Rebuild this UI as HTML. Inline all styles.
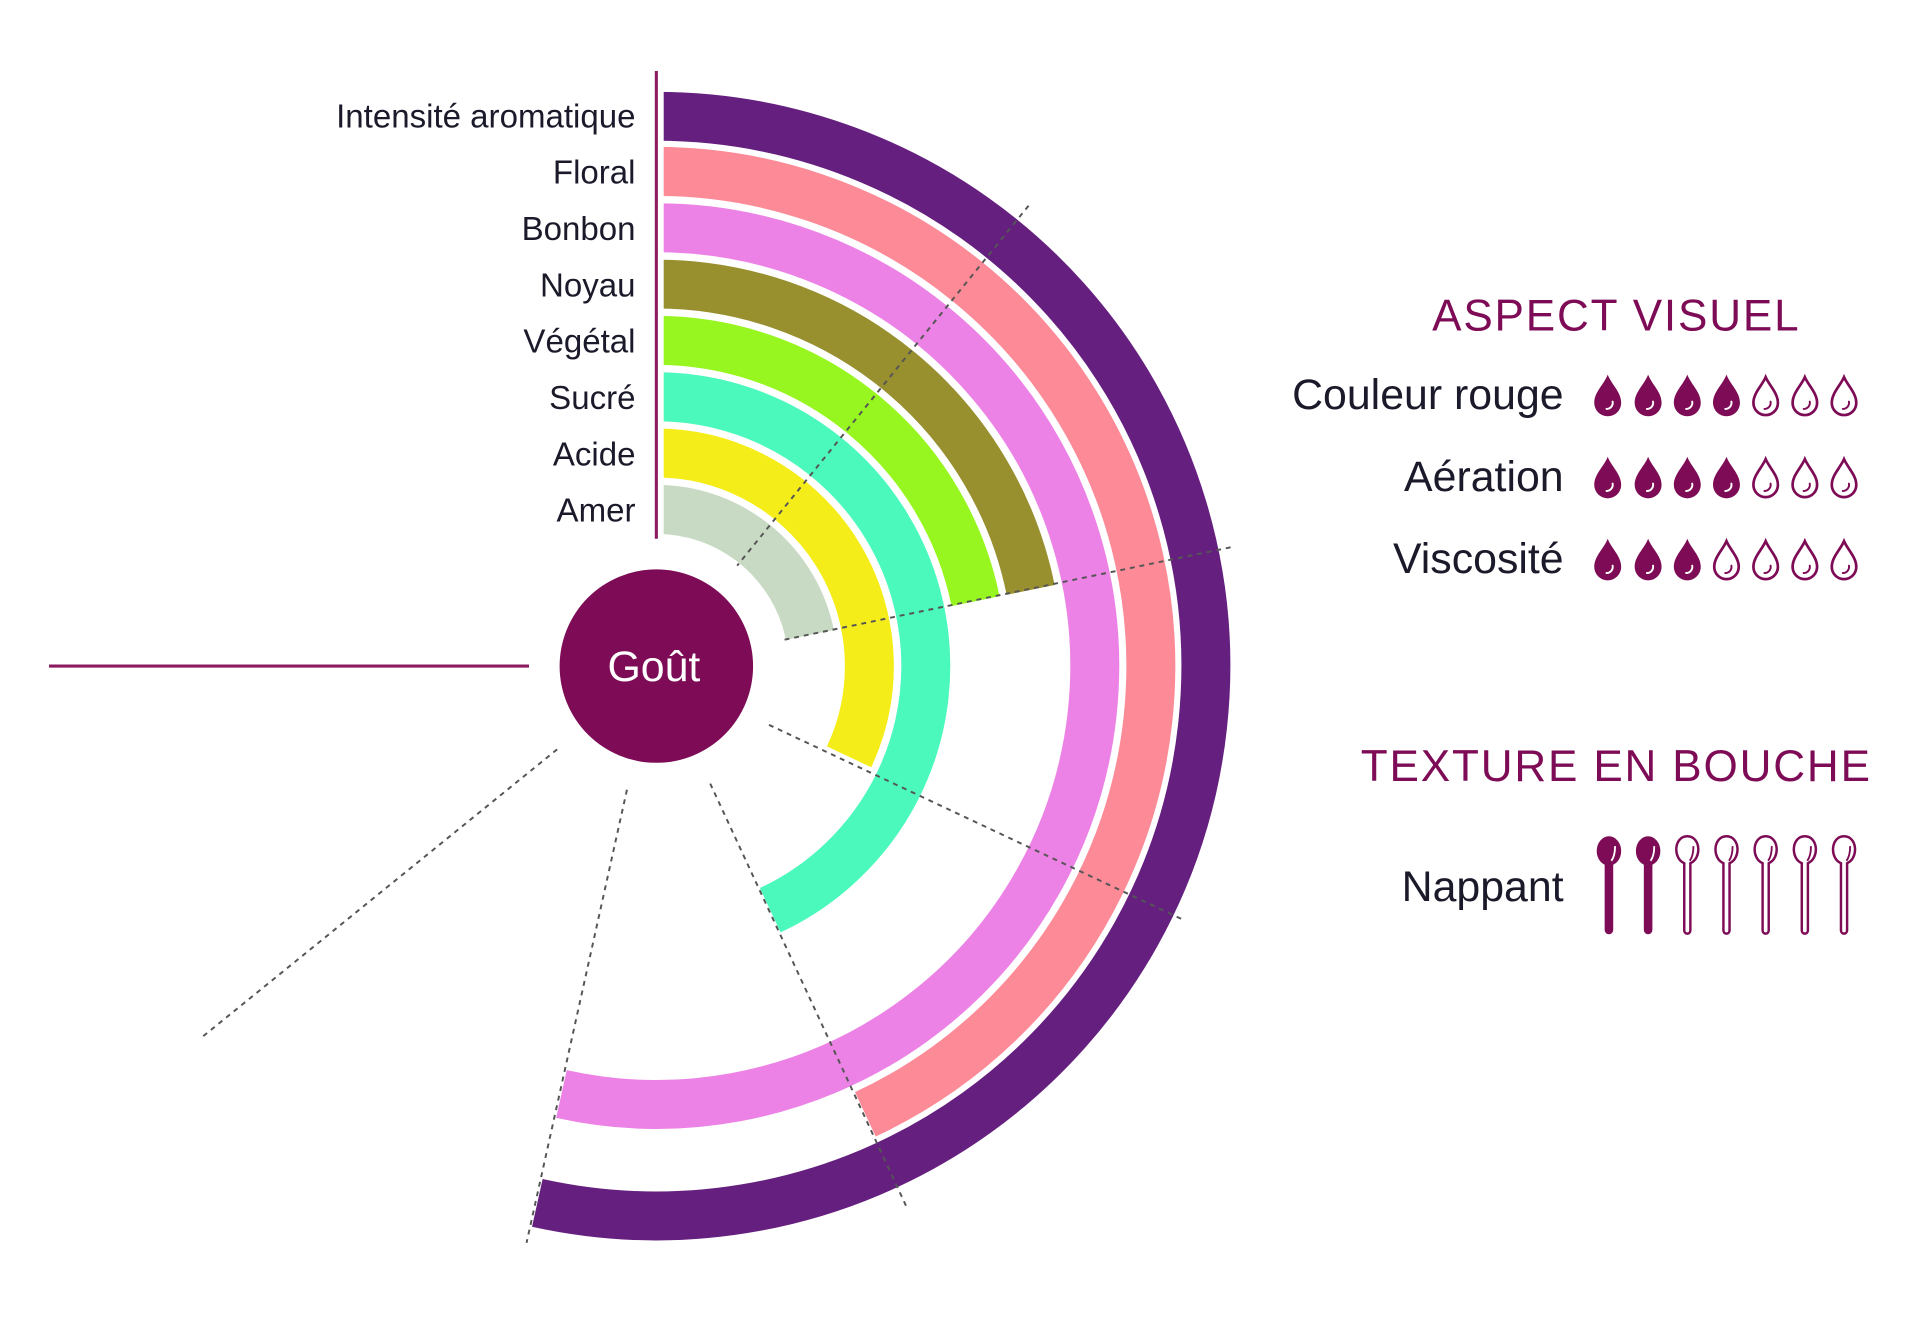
<!DOCTYPE html>
<html><head><meta charset="utf-8"><style>
html,body{margin:0;padding:0;background:#fff;}
svg{display:block;}
text{font-family:"Liberation Sans",sans-serif;}
</style></head><body>
<svg width="1920" height="1322" viewBox="0 0 1568 1079.7" xmlns="http://www.w3.org/2000/svg">
<defs>
<g id="df"><path d="M0,-17 C3,-9 11,-3 11,6 A11,11 0 0 1 -11,6 C-11,-3 -3,-9 0,-17 Z" fill="#7d0b55"/><path d="M4,5 A5,5 0 0 1 -1,11" stroke="#fff" stroke-width="1.6" fill="none" stroke-linecap="round"/></g>
<g id="de"><path d="M0,-15 C3,-8 10,-2 10,6 A10,10 0 0 1 -10,6 C-10,-2 -3,-8 0,-15 Z" fill="none" stroke="#7d0b55" stroke-width="2.2"/><path d="M4,5 A5,5 0 0 1 -1,11" stroke="#7d0b55" stroke-width="1.6" fill="none" stroke-linecap="round"/></g>
<g id="sf"><ellipse cx="0" cy="0" rx="10" ry="12" fill="#7d0b55"/><rect x="-3.5" y="5" width="7" height="63" rx="3.5" fill="#7d0b55"/><path d="M5,-4 Q5,4 2,8" stroke="#fff" stroke-width="1.5" fill="none"/></g>
<g id="se"><path d="M-2.5,10 C-12,6 -11,-12 0,-12 C11,-12 12,6 2.5,10 L2.5,65 A2.5,2.5 0 0 1 -2.5,65 Z" fill="none" stroke="#7d0b55" stroke-width="2"/><path d="M5,-4 Q5,4 2,8" stroke="#7d0b55" stroke-width="1.5" fill="none"/></g>
</defs>
<g fill="none" stroke-width="40">
<path d="M536,95 A449,449 0 1 1 438.8,982.4" stroke="#651f7f"/>
<path d="M536,140 A404,404 0 0 1 706.7,910.1" stroke="#fd8a97"/>
<path d="M536,186 A358,358 0 1 1 458.5,893.5" stroke="#ec82e5"/>
<path d="M536,232 A312,312 0 0 1 841.7,481.8" stroke="#988f2e"/>
<path d="M536,278 A266,266 0 0 1 796.7,491" stroke="#97f61f"/>
<path d="M536,324 A220,220 0 0 1 629,743.4" stroke="#4cf9bc"/>
<path d="M536,370 A174,174 0 0 1 693.4,618.1" stroke="#f4ed19"/>
<path d="M536,416 A128,128 0 0 1 661.4,518.5" stroke="#c8dac3"/>
</g>
<rect x="530" y="60" width="12" height="400" fill="#fff"/>
<line x1="536" y1="58" x2="536" y2="440" stroke="#8b1a5e" stroke-width="2.5"/>
<line x1="40" y1="544" x2="432" y2="544" stroke="#8b1a5e" stroke-width="2.5"/>
<g stroke="#555" stroke-width="1.6" stroke-dasharray="4 4">
<line x1="840" y1="168" x2="602" y2="462"/>
<line x1="1005" y1="447" x2="638" y2="523"/>
<line x1="628" y1="592" x2="968" y2="752"/>
<line x1="580" y1="640" x2="740" y2="985"/>
<line x1="512" y1="645" x2="430" y2="1015"/>
<line x1="455" y1="612" x2="165" y2="847"/>
</g>
<circle cx="536" cy="544" r="79" fill="#7d0b55"/>
<text x="534" y="556" fill="#fff" font-size="35" text-anchor="middle">Goût</text>
<g font-size="27" fill="#1a1a2a" text-anchor="end">
<text x="519" y="104">Intensité aromatique</text>
<text x="519" y="150">Floral</text>
<text x="519" y="196">Bonbon</text>
<text x="519" y="242">Noyau</text>
<text x="519" y="288">Végétal</text>
<text x="519" y="334">Sucré</text>
<text x="519" y="380">Acide</text>
<text x="519" y="426">Amer</text>
</g>
<g fill="#7d0b55" font-size="36" text-anchor="middle" letter-spacing="1.5">
<text x="1320" y="270">ASPECT VISUEL</text>
<text x="1320" y="638">TEXTURE EN BOUCHE</text>
</g>
<g font-size="35" fill="#1a1a2a" text-anchor="end">
<text x="1277" y="334">Couleur rouge</text>
<text x="1277" y="401">Aération</text>
<text x="1277" y="468">Viscosité</text>
<text x="1277" y="736">Nappant</text>
</g>
<use href="#df" x="1313" y="323"/><use href="#df" x="1346" y="323"/><use href="#df" x="1378" y="323"/><use href="#df" x="1410" y="323"/><use href="#de" x="1442" y="323"/><use href="#de" x="1474" y="323"/><use href="#de" x="1506" y="323"/>
<use href="#df" x="1313" y="390"/><use href="#df" x="1346" y="390"/><use href="#df" x="1378" y="390"/><use href="#df" x="1410" y="390"/><use href="#de" x="1442" y="390"/><use href="#de" x="1474" y="390"/><use href="#de" x="1506" y="390"/>
<use href="#df" x="1313" y="457"/><use href="#df" x="1346" y="457"/><use href="#df" x="1378" y="457"/><use href="#de" x="1410" y="457"/><use href="#de" x="1442" y="457"/><use href="#de" x="1474" y="457"/><use href="#de" x="1506" y="457"/>
<use href="#sf" x="1314" y="695"/><use href="#sf" x="1346" y="695"/><use href="#se" x="1378" y="695"/><use href="#se" x="1410" y="695"/><use href="#se" x="1442" y="695"/><use href="#se" x="1474" y="695"/><use href="#se" x="1506" y="695"/>
</svg>
</body></html>
